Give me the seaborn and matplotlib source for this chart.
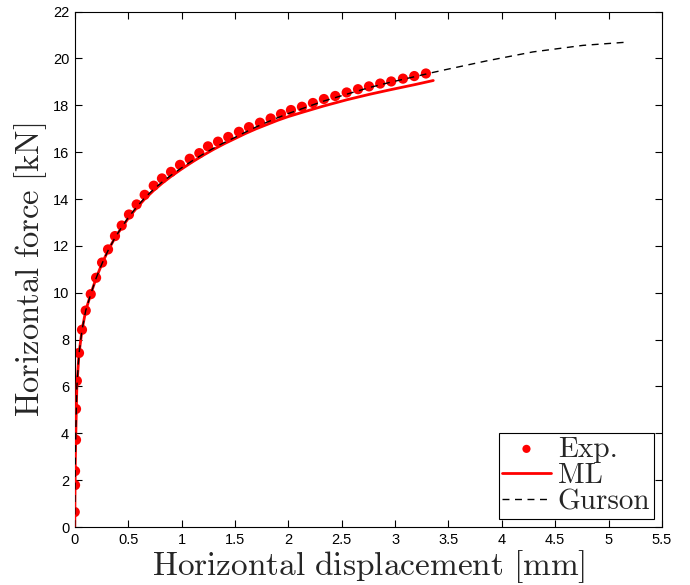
import numpy as np
import pandas as pd
import matplotlib
matplotlib.use("Agg")
import matplotlib.pyplot as plt
import seaborn as sns

# Experimental data
exp_x = [0.0, 0.003, 0.003, 0.012, 0.012, 0.02, 0.04, 0.068, 0.103, 0.15, 0.2, 0.256,
         0.312, 0.377, 0.44, 0.508, 0.58, 0.655, 0.74, 0.817, 0.902, 0.986, 1.077,
         1.167, 1.248, 1.342, 1.438, 1.538, 1.632, 1.735, 1.835, 1.932, 2.025, 2.128,
         2.231, 2.334, 2.44, 2.547, 2.653, 2.756, 2.861, 2.964, 3.074, 3.18, 3.289]
exp_y = [0.64, 1.79, 2.39, 3.72, 5.04, 6.24, 7.43, 8.42, 9.24, 9.94, 10.64, 11.29,
         11.85, 12.42, 12.87, 13.34, 13.77, 14.18, 14.57, 14.88, 15.16, 15.46, 15.72,
         15.96, 16.25, 16.45, 16.65, 16.87, 17.07, 17.26, 17.44, 17.63, 17.80, 17.94,
         18.10, 18.27, 18.40, 18.55, 18.69, 18.81, 18.93, 19.02, 19.14, 19.25, 19.36]

# ML model
ml_x = [0.0, 0.003, 0.006, 0.012, 0.02, 0.04, 0.068, 0.103, 0.15, 0.2, 0.256, 0.312,
        0.377, 0.44, 0.508, 0.58, 0.655, 0.74, 0.82, 0.9, 1.0, 1.1, 1.2, 1.3, 1.4,
        1.5, 1.6, 1.7, 1.8, 1.9, 2.0, 2.13, 2.33, 2.55, 2.76, 2.96, 3.18, 3.358]
ml_y = [0.0, 1.8, 3.0, 4.4, 6.0, 7.4, 8.4, 9.24, 9.94, 10.62, 11.25, 11.8,
        12.35, 12.78, 13.22, 13.62, 14.0, 14.37, 14.68, 14.96, 15.28, 15.58, 15.86,
        16.12, 16.36, 16.58, 16.8, 17.0, 17.18, 17.36, 17.52, 17.7, 17.97, 18.24,
        18.47, 18.67, 18.88, 19.06]

# Gurson model
gurson_x = [0.0, 0.003, 0.006, 0.012, 0.02, 0.04, 0.068, 0.103, 0.15, 0.2, 0.256, 0.312,
            0.377, 0.44, 0.508, 0.58, 0.655, 0.74, 0.82, 0.9, 1.0, 1.1, 1.2, 1.3, 1.4,
            1.5, 1.6, 1.7, 1.8, 1.9, 2.0, 2.13, 2.33, 2.55, 2.76, 2.96, 3.18, 3.36,
            3.48, 3.86, 4.29, 4.76, 5.15]
gurson_y = [0.0, 1.8, 3.0, 4.4, 6.0, 7.4, 8.4, 9.24, 9.94, 10.62, 11.25, 11.8,
            12.35, 12.8, 13.25, 13.66, 14.05, 14.42, 14.73, 15.01, 15.33, 15.63, 15.91,
            16.17, 16.41, 16.63, 16.86, 17.08, 17.28, 17.47, 17.65, 17.86, 18.18,
            18.48, 18.76, 18.99, 19.22, 19.41, 19.53, 19.9, 20.28, 20.56, 20.69]

x_ticks = [0, 0.5, 1, 1.5, 2, 2.5, 3, 3.5, 4, 4.5, 5, 5.5]
x_tick_labels = ["0", "0.5", "1", "1.5", "2", "2.5", "3", "3.5", "4", "4.5", "5", "5.5"]
y_ticks = [0, 2, 4, 6, 8, 10, 12, 14, 16, 18, 20, 22]

sns.set_style("ticks")
plt.rcParams["font.family"] = ["Liberation Sans", "DejaVu Sans"]
plt.rcParams["mathtext.fontset"] = "cm"

fig = plt.figure(figsize=(6.9, 5.85), dpi=100)
ax = fig.add_axes([0.1083, 0.0991, 0.8511, 0.881])

exp_df = pd.DataFrame({"x": exp_x, "y": exp_y})
ml_df = pd.DataFrame({"x": ml_x, "y": ml_y})
gu_df = pd.DataFrame({"x": gurson_x, "y": gurson_y})

sns.scatterplot(data=exp_df, x="x", y="y", ax=ax, color="#ff0000", s=54,
                edgecolor="none", linewidth=0, label="Exp.", zorder=2)
sns.lineplot(data=ml_df, x="x", y="y", ax=ax, color="#ff0000", linewidth=2.0,
             sort=False, estimator=None, label="ML", zorder=3)
sns.lineplot(data=gu_df, x="x", y="y", ax=ax, color="black", linewidth=1.0,
             linestyle=(0, (5, 4)), sort=False, estimator=None,
             label="Gurson", zorder=4)

ax.set_xlim(0, 5.5)
ax.set_ylim(0, 22)
ax.set_xticks(x_ticks)
ax.set_xticklabels(x_tick_labels)
ax.set_yticks(y_ticks)
ax.tick_params(direction="in", length=5, width=0.8, labelsize=10.5, top=True,
               right=True, colors="black", pad=4)
for sp in ax.spines.values():
    sp.set_visible(True)
    sp.set_color("black")
    sp.set_linewidth(0.8)

ax.set_xlabel(r"$\mathrm{Horizontal\ displacement\ [mm]}$", fontsize=24, labelpad=1)
ax.set_ylabel(r"$\mathrm{Horizontal\ force\ [kN]}$", fontsize=23.5, labelpad=3)

leg = ax.legend(loc="lower right", prop={"family": "cmr10", "size": 21},
                frameon=True, fancybox=False,
                edgecolor="black", framealpha=1, borderpad=0.12, labelspacing=0.0,
                handlelength=1.65, handletextpad=0.25, borderaxespad=0.28,
                markerscale=0.8)
leg.get_frame().set_linewidth(0.8)

fig.savefig("out.png", dpi=100)
